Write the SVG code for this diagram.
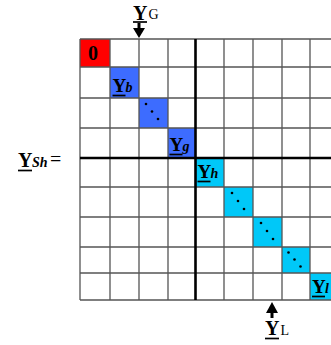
<svg xmlns="http://www.w3.org/2000/svg" width="331" height="345" viewBox="0 0 331 345">
<style>
.bg{fill:#fff}
.grid{stroke:#555;stroke-width:1.3;fill:none}
.thick{stroke:#000;stroke-width:2.6;fill:none}
.red{fill:#ff0000}
.blue{fill:#3d6cff}
.cyan{fill:#00c8f8}
.Y{font-family:"Liberation Serif","Times New Roman",serif;font-weight:bold;font-size:19px;fill:#000}
.sub{font-family:"Liberation Serif","Times New Roman",serif;font-weight:bold;font-style:italic;font-size:14px;fill:#000}
.subr{font-family:"Liberation Serif","Times New Roman",serif;font-size:14px;fill:#000}
.ul{stroke:#000;stroke-width:1.7}
.dot{fill:#000}
.arr{fill:#000}
.stem{stroke:#000;stroke-width:3}
</style>
<rect class="bg" x="0" y="0" width="331" height="345"/>
<g id="cells">
  <g id="cell-0"><rect class="red" x="80" y="39" width="30" height="28"/><text class="Y" x="88" y="60" style="font-size:20px">0</text></g>
  <g id="cell-Yb"><rect class="blue" x="110" y="67" width="29" height="31"/><text class="Y" x="112.5" y="92">Y</text><line class="ul" x1="112.5" y1="95.5" x2="125.5" y2="95.5"/><text class="sub" x="125.5" y="92">b</text></g>
  <g id="cell-dots1"><rect class="blue" x="139" y="98" width="29" height="30"/><circle class="dot" cx="146" cy="104" r="1.3"/><circle class="dot" cx="152" cy="111.5" r="1.3"/><circle class="dot" cx="158" cy="119" r="1.3"/></g>
  <g id="cell-Yg"><rect class="blue" x="168" y="128" width="27" height="30"/><text class="Y" x="169.5" y="151">Y</text><line class="ul" x1="169.5" y1="154.5" x2="182.5" y2="154.5"/><text class="sub" x="182.5" y="151">g</text></g>
  <g id="cell-Yh"><rect class="cyan" x="195" y="158" width="29" height="29"/><text class="Y" x="197.5" y="178">Y</text><line class="ul" x1="197.5" y1="181.5" x2="210.5" y2="181.5"/><text class="sub" x="210.5" y="178">h</text></g>
  <g id="cell-dots2"><rect class="cyan" x="224" y="187" width="29" height="30"/><circle class="dot" cx="232" cy="193" r="1.3"/><circle class="dot" cx="238" cy="201" r="1.3"/><circle class="dot" cx="244" cy="209" r="1.3"/></g>
  <g id="cell-dots3"><rect class="cyan" x="253" y="217" width="29" height="30"/><circle class="dot" cx="261" cy="223" r="1.3"/><circle class="dot" cx="267" cy="231" r="1.3"/><circle class="dot" cx="273" cy="239" r="1.3"/></g>
  <g id="cell-dots4"><rect class="cyan" x="282" y="247" width="28" height="26"/><circle class="dot" cx="288.5" cy="252.5" r="1.3"/><circle class="dot" cx="294.5" cy="259.5" r="1.3"/><circle class="dot" cx="300.5" cy="266.5" r="1.3"/></g>
  <g id="cell-Yl"><rect class="cyan" x="310" y="273" width="29" height="27"/><text class="Y" x="312" y="293">Y</text><line class="ul" x1="312" y1="296.5" x2="325" y2="296.5"/><text class="sub" x="325" y="293">l</text></g>
</g>
<g id="grid">
  <path class="grid" d="M80 39V300M110 39V300M139 39V300M168 39V300M224 39V300M253 39V300M282 39V300M310 39V300"/>
  <path class="grid" d="M80 39H331M80 67H331M80 98H331M80 128H331M80 187H331M80 217H331M80 247H331M80 273H331M80 300H331"/>
  <path class="thick" d="M195.5 39V300M80 158H331"/>
</g>
<g id="label-YSh"><text class="Y" x="18" y="167" style="font-size:20px">Y</text><line class="ul" x1="18" y1="170.5" x2="32" y2="170.5"/><text class="sub" x="32" y="167">Sh</text><text class="Y" x="50" y="166" style="font-weight:normal;font-size:20px">=</text></g>
<g id="label-YG"><text class="Y" x="133" y="20" style="font-size:20px">Y</text><line class="ul" x1="133" y1="22" x2="147" y2="22"/><text class="subr" x="148.5" y="19">G</text></g>
<g id="label-YL"><text class="Y" x="265" y="335" style="font-size:20px">Y</text><line class="ul" x1="265" y1="338.5" x2="279" y2="338.5"/><text class="subr" x="280.5" y="335">L</text></g>
<g id="connectors">
  <line class="stem" x1="139" y1="23" x2="139" y2="30"/><polygon class="arr" points="133,28 145,28 139,38"/>
  <line class="stem" x1="272" y1="311" x2="272" y2="318"/><polygon class="arr" points="272,302 266,313 278,313"/>
</g>
</svg>
